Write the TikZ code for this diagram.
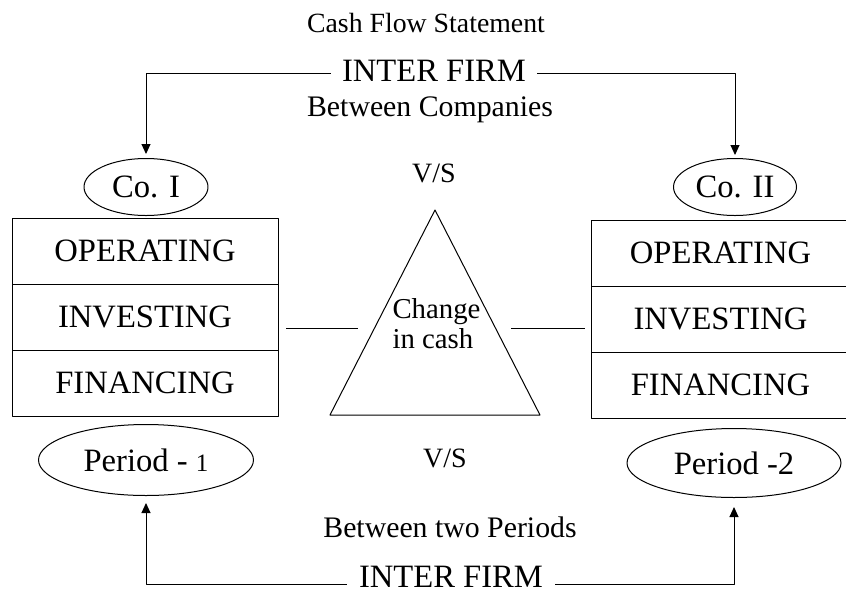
\documentclass[tikz,border=0pt]{standalone}
\usepackage{fontspec}
\setmainfont{Liberation Serif}
\usetikzlibrary{shapes.geometric,positioning,arrows.meta}
\begin{document}
\begin{tikzpicture}[x=1pt,y=-1pt,>={Triangle[length=10pt,width=9pt]}, line width=1pt, line join=round,
	big/.style={font=\fontsize{32.6}{36}\selectfont},
	subtext/.style={font=\fontsize{29.8}{34}\selectfont},
	oval/.style={ellipse,draw,inner sep=0pt,big},
	rowbox/.style={draw,outer sep=0pt,inner sep=0pt,minimum height=66pt,big}]
		\useasboundingbox (0,0) rectangle (846,590);
		\node[font=\fontsize{27.8}{32}\selectfont] (title) at (426,23) {Cash Flow Statement};
		\node[big,inner xsep=11pt] (intA) at (434,71) {INTER FIRM};
		\node[subtext] (betA) at (430,110) {Between Companies};
		\node[font=\fontsize{28}{32}\selectfont] (vsA) at (434,173) {V/S};
		\node[oval,minimum width=124pt,minimum height=57pt] (coA) at (146,187) {Co. I};
		\node[oval,minimum width=123pt,minimum height=57pt] (coB) at (735,187) {Co. II};
		\draw[->,shorten >=4pt] ([yshift=-2pt]intA.west) -| (coA.north);
		\draw[->,shorten >=3pt] ([yshift=-2pt]intA.east) -| (coB.north);
		\node[rowbox,minimum width=266pt] (opA) at (145,251) {OPERATING};
		\node[rowbox,minimum width=266pt,below=0pt of opA] (invA) {INVESTING};
		\node[rowbox,minimum width=266pt,below=0pt of invA] (finA) {FINANCING};
		\node[rowbox,minimum width=259pt] (opB) at (720.5,253) {OPERATING};
		\node[rowbox,minimum width=259pt,below=0pt of opB] (invB) {INVESTING};
		\node[rowbox,minimum width=259pt,below=0pt of invB] (finB) {FINANCING};
		\coordinate (apex) at (435,210); \coordinate (triL) at (330,415); \coordinate (triR) at (540,415);
		\draw (apex) -- (triL) -- (triR) -- cycle;
		\node[font=\fontsize{28.8}{30}\selectfont,align=left,inner sep=0pt,anchor=north west] (chg) at (392,298) {Change\\in cash};
		\coordinate (lnA) at (286,328); \coordinate (lnB) at (358,328);
		\coordinate (lnC) at (511,328); \coordinate (lnD) at (585,328);
		\draw (lnA) -- (lnB) (lnC) -- (lnD);
		\node[font=\fontsize{28}{32}\selectfont] (vsB) at (445,458) {V/S};
		\node[oval,minimum width=215pt,minimum height=71pt] (perA) at (146,460) {Period - {\fontsize{25}{30}\selectfont 1}};
		\node[oval,minimum width=214pt,minimum height=69pt] (perB) at (734,463) {Period -2};
		\node[subtext] (betB) at (450,527) {Between two Periods};
		\node[big,inner xsep=12pt,inner ysep=0pt] (intB) at (451,577) {INTER FIRM};
		\draw[->,shorten >=7pt] ([yshift=-7pt]intB.west) -| (perA.south);
		\draw[->,shorten >=9pt] ([yshift=-7pt]intB.east) -| (perB.south);
\end{tikzpicture}
\end{document}
